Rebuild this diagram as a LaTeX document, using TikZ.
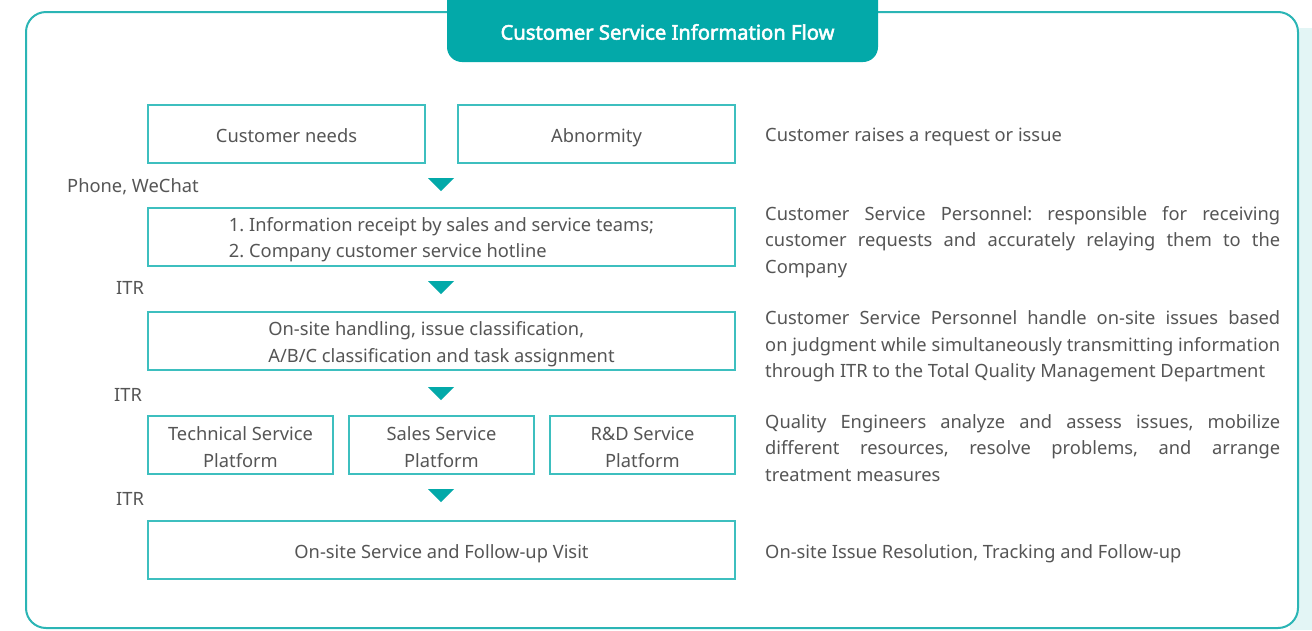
\documentclass[tikz,border=0pt]{standalone}
\usepackage{fontspec}
\setmainfont{Noto Sans}
\newfontfamily\titlefont{Noto Sans}[FakeBold=2.6]
\definecolor{teal1}{HTML}{2BB5B5}
\definecolor{tealfill}{HTML}{03A9A9}
\definecolor{boxline}{HTML}{3DBFBF}
\definecolor{txt}{HTML}{555555}
\definecolor{shadowc}{HTML}{E3F5F5}
\begin{document}
\begin{tikzpicture}[x=1pt,y=-1pt,
  every node/.style={inner sep=0pt, text=txt, font=\fontsize{18.3}{26.5}\selectfont\frenchspacing},
  fbox/.style={draw=boxline, line width=1.4pt, minimum height=58pt, align=center},
  single/.style={text height=17pt, text depth=1pt},
  wide/.style={fbox, minimum width=587pt},
  half/.style={fbox, single, minimum width=277pt},
  plat/.style={fbox, minimum width=185pt, font=\fontsize{18.3}{27}\selectfont},
  desc/.style={anchor=north west, text width=515pt, align=justify},
  lab/.style={anchor=west},
  tri/.style={fill=tealfill, draw=none}
]
\useasboundingbox (0,0) rectangle (1312,630);
% shadow
\fill[shadowc] (1290,28) rectangle (1312,630);
% main frame
\draw[draw=teal1, line width=2pt, fill=white, rounded corners=20pt] (26,12) rectangle (1298,628);
% title tab
\fill[tealfill, rounded corners=15pt] (447,-20) rectangle (878,62);
\node[text=white, font=\fontsize{20.2}{24}\titlefont] (title) at (667.5,32) {Customer Service Information Flow};

% boxes
\node[half] (needs) at (286.5,134) {Customer needs};
\node[half] (abn) at (596.5,134) {Abnormity};
\node[wide] (recv) at (441.5,237) {\begin{tabular}{@{}l@{}}\rule{0pt}{22.5pt}1. Information receipt by sales and service teams;\\[-1pt] 2. Company customer service hotline\end{tabular}};
\node[wide] (hand) at (441.5,341) {\begin{tabular}{@{}l@{}}\rule{0pt}{23.5pt}On-site handling, issue classification,\\[0pt] A/B/C classification and task assignment\end{tabular}};
\node[plat] (tech) at (240.5,445) {\rule{0pt}{17.5pt}Technical Service\\Platform};
\node[plat] (sales) at (441.5,445) {\rule{0pt}{17.5pt}Sales Service\\Platform};
\node[plat] (rd) at (642.5,445) {\rule{0pt}{17.5pt}R\&D Service\\Platform};
\node[wide, single] (visit) at (441.5,550) {On-site Service and Follow-up Visit};

% triangles
\coordinate (t1) at (441,178);
\coordinate (t2) at (441,281);
\coordinate (t3) at (441,387);
\coordinate (t4) at (441,489);
\foreach \t in {t1,t2,t3,t4}{
  \fill[tri] ([xshift=-13pt]\t) -- ([xshift=13pt]\t) -- ([yshift=-13pt]\t) -- cycle;
}

% left labels
\node[lab] (l1) at (67,187) {Phone, WeChat};
\node[lab] (l2) at (116,288) {ITR};
\node[lab] (l3) at (114,395) {ITR};
\node[lab] (l4) at (116,499) {ITR};

% right descriptions
\node[lab] (d1) at (765,137) {Customer raises a request or issue};
\node[desc] (d2) at (765,206) {Customer Service Personnel: responsible for receiving\linebreak customer requests and accurately relaying them to the\linebreak Company};
\node[desc] (d3) at (765,310.5) {Customer Service Personnel handle on-site issues based\linebreak on judgment while simultaneously transmitting information\linebreak through ITR to the Total Quality Management Department};
\node[desc] (d4) at (765,414) {Quality Engineers analyze and assess issues, mobilize\linebreak different resources, resolve problems, and arrange\linebreak treatment measures};
\node[lab] (d5) at (765,554) {On-site Issue Resolution, Tracking and Follow-up};
\end{tikzpicture}
\end{document}
